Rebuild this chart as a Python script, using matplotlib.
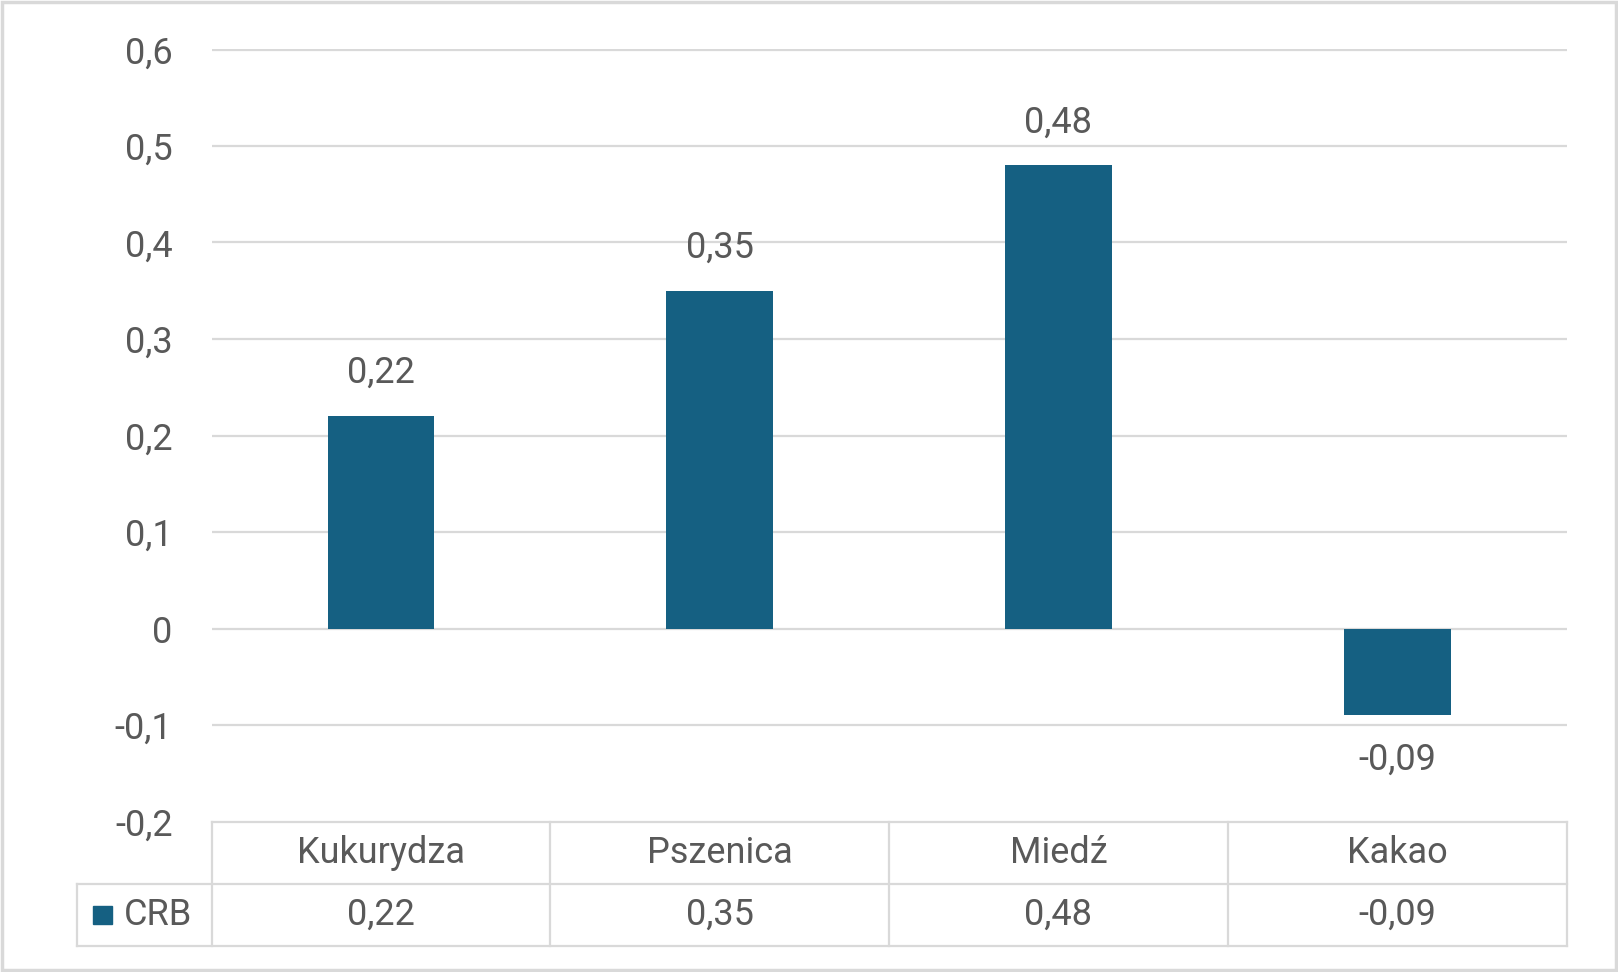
import matplotlib.pyplot as plt
from matplotlib.patches import Rectangle

# data
categories = ["Kukurydza", "Pszenica", "Miedź", "Kakao"]
series_name = "CRB"
values = [0.22, 0.35, 0.48, -0.09]
y_ticks = [-0.2, -0.1, 0.0, 0.1, 0.2, 0.3, 0.4, 0.5, 0.6]

BAR_COLOR = "#156082"
TEXT_COLOR = "#595959"
GRID_COLOR = "#d9d9d9"
FONT_SIZE = 26

plt.rcParams["font.family"] = ["Roboto", "DejaVu Sans"]


def pl_num(v, digits):
    s = f"{v:.{digits}f}".replace(".", ",")
    if s.lstrip("-").replace(",", "").strip("0") == "":
        return "0"
    return s


W, H = 1618, 972
fig = plt.figure(figsize=(W / 100, H / 100), dpi=100)

# plot area (pixel positions)
left, right = 211.5 / W, 1566.6 / W
top, bottom = 1 - 49.5 / H, 1 - 821.5 / H
ax = fig.add_axes([left, bottom, right - left, top - bottom])

x = list(range(len(categories)))
ax.bar(x, values, width=0.315, color=BAR_COLOR, zorder=3)
ax.set_xlim(-0.5, len(categories) - 0.5)
ax.set_ylim(min(y_ticks), max(y_ticks))
ax.set_yticks(y_ticks)
ax.set_yticklabels([pl_num(t, 1) for t in y_ticks])
ax.set_xticks([])
ax.tick_params(axis="y", length=0, pad=28, labelsize=FONT_SIZE, labelcolor=TEXT_COLOR)
for s in ax.spines.values():
    s.set_visible(False)
for t in y_ticks[1:]:
    ax.axhline(t, color=GRID_COLOR, linewidth=1.6, zorder=1)

# data labels
for xi, v in zip(x, values):
    off = 31 if v >= 0 else -32
    ax.annotate(pl_num(v, 2), (xi, v), xytext=(0, off), textcoords="offset points",
                ha="center", va="center", fontsize=FONT_SIZE, color=TEXT_COLOR)

# data table below the plot
t_bottom = 1 - 946.3 / H
tax = fig.add_axes([left, t_bottom, right - left, bottom - t_bottom])
tax.set_xlim(ax.get_xlim())
tax.set_ylim(0, 2)
tax.axis("off")
px_per_unit = (1566.6 - 211.5) / len(categories)
x_label_left = -0.5 - (211.5 - 77.4) / px_per_unit

n = len(categories)
tax.plot([-0.5, n - 0.5], [2, 2], color=GRID_COLOR, lw=1.6, clip_on=False)
tax.plot([x_label_left, n - 0.5], [1, 1], color=GRID_COLOR, lw=1.6, clip_on=False)
tax.plot([x_label_left, n - 0.5], [0, 0], color=GRID_COLOR, lw=1.6, clip_on=False)
tax.plot([x_label_left, x_label_left], [0, 1], color=GRID_COLOR, lw=1.6, clip_on=False)
for i in range(n + 1):
    tax.plot([i - 0.5, i - 0.5], [0, 2], color=GRID_COLOR, lw=1.6, clip_on=False)

for xi, cat, v in zip(x, categories, values):
    tax.text(xi, 1.5, cat, ha="center", va="center", fontsize=FONT_SIZE, color=TEXT_COLOR)
    tax.text(xi, 0.5, pl_num(v, 2), ha="center", va="center", fontsize=FONT_SIZE, color=TEXT_COLOR)

# legend key inside the table
sq = 18.6 / px_per_unit
sq_x = -0.5 - (211.5 - 93) / px_per_unit
sq_h = 18.6 / ((946.3 - 821.5) / 2)
tax.add_patch(Rectangle((sq_x, 0.5 - sq_h / 2), sq, sq_h, color=BAR_COLOR, clip_on=False))
tax.text(-0.5 - (211.5 - 124) / px_per_unit, 0.5, series_name, ha="left", va="center",
         fontsize=FONT_SIZE, color=TEXT_COLOR)

# chart border
fig.patches.append(Rectangle((0.0015, 0.0025), 0.997, 0.995, transform=fig.transFigure,
                             fill=False, edgecolor=GRID_COLOR, linewidth=2.5))

fig.savefig("out.png", dpi=100)
